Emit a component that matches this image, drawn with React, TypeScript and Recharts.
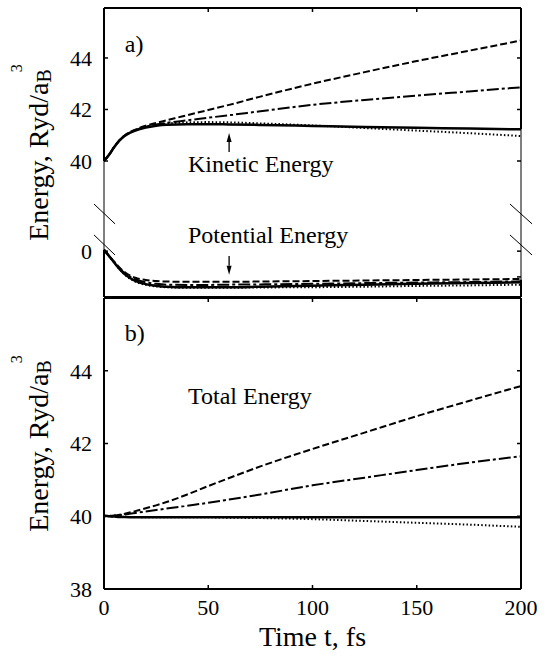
import React from 'react';
import { LineChart, Line, XAxis, YAxis, ReferenceLine, ReferenceDot } from 'recharts';

const SERIF = 'Liberation Serif';

// time grid, fs
const TIME = [0, 2.5, 5, 7.5, 10, 15, 20, 25, 30, 40, 50, 60, 75, 100, 125, 150, 175, 200];

// a) kinetic energy
const K_SOLID = [40, 40.25, 40.55, 40.8, 40.98, 41.18, 41.3, 41.37, 41.41, 41.43, 41.43, 41.42, 41.4, 41.36, 41.32, 41.29, 41.26, 41.23];
const K_DASH = [40, 40.25, 40.56, 40.82, 41.0, 41.22, 41.37, 41.48, 41.58, 41.78, 41.98, 42.18, 42.5, 43.0, 43.45, 43.88, 44.28, 44.68];
const K_DASHDOT = [40, 40.25, 40.55, 40.81, 40.99, 41.2, 41.33, 41.42, 41.48, 41.58, 41.68, 41.78, 41.93, 42.18, 42.37, 42.54, 42.7, 42.86];
const K_DOT = [40, 40.25, 40.55, 40.8, 40.98, 41.19, 41.32, 41.4, 41.45, 41.5, 41.51, 41.5, 41.46, 41.38, 41.28, 41.18, 41.08, 40.97];

// a) potential energy
const P_SOLID = [0.05, -0.2, -0.45, -0.7, -0.9, -1.15, -1.28, -1.34, -1.38, -1.4, -1.4, -1.4, -1.38, -1.34, -1.3, -1.27, -1.24, -1.21];
const P_DASH = [0.05, -0.18, -0.42, -0.64, -0.82, -1.03, -1.12, -1.16, -1.18, -1.19, -1.19, -1.19, -1.18, -1.16, -1.14, -1.12, -1.1, -1.08];
const P_DASHDOT = [0.05, -0.19, -0.44, -0.67, -0.86, -1.09, -1.21, -1.27, -1.3, -1.31, -1.31, -1.3, -1.29, -1.27, -1.24, -1.22, -1.2, -1.17];
const P_DOT = [0.05, -0.2, -0.46, -0.71, -0.92, -1.18, -1.31, -1.37, -1.4, -1.42, -1.42, -1.42, -1.41, -1.4, -1.38, -1.35, -1.33, -1.3];

// b) total energy
const T_SOLID = [40.02, 40.0, 39.99, 39.98, 39.98, 39.97, 39.97, 39.97, 39.97, 39.97, 39.97, 39.97, 39.97, 39.97, 39.97, 39.97, 39.97, 39.97];
const T_DASH = [40.0, 40.01, 40.02, 40.04, 40.07, 40.14, 40.22, 40.3, 40.39, 40.6, 40.83, 41.05, 41.37, 41.85, 42.3, 42.75, 43.17, 43.58];
const T_DASHDOT = [40.0, 40.01, 40.02, 40.03, 40.05, 40.09, 40.13, 40.17, 40.21, 40.29, 40.37, 40.46, 40.6, 40.85, 41.06, 41.27, 41.47, 41.65];
const T_DOT = [40.0, 40.0, 39.99, 39.99, 39.98, 39.98, 39.97, 39.97, 39.97, 39.97, 39.97, 39.96, 39.95, 39.92, 39.87, 39.82, 39.77, 39.71];

const TIME_TICKS = [0, 50, 100, 150, 200];
const KINETIC_TICKS = [40, 42, 44];
const POTENTIAL_TICKS = [-1, 0];
const TOTAL_TICKS = [38, 40, 42, 44];

// broken axis in panel a): kinetic values are shifted down so 40 sits 3.5 units above 0
const K_OFFSET = 36.5;
const TOP_DOMAIN: [number, number] = [-1.78, 9.44];
const BOTTOM_DOMAIN: [number, number] = [38, 46];

const topData = TIME.map((t, i) => ({
  t,
  kS: K_SOLID[i] - K_OFFSET,
  kD: K_DASH[i] - K_OFFSET,
  kDD: K_DASHDOT[i] - K_OFFSET,
  kDot: K_DOT[i] - K_OFFSET,
  pS: P_SOLID[i],
  pD: P_DASH[i],
  pDD: P_DASHDOT[i],
  pDot: P_DOT[i],
}));

const bottomData = TIME.map((t, i) => ({
  t,
  s: T_SOLID[i],
  d: T_DASH[i],
  dd: T_DASHDOT[i],
  dot: T_DOT[i],
}));

const STYLE = {
  solid: { strokeWidth: 2.5, strokeDasharray: undefined },
  dash: { strokeWidth: 2, strokeDasharray: '7 3' },
  dashdot: { strokeWidth: 2, strokeDasharray: '12 3 3 3' },
  dot: { strokeWidth: 2, strokeDasharray: '1.5 2.2' },
};

const TICK = { fill: '#000', fontSize: 22, style: { fontFamily: SERIF } };
const TICK_LINE = { stroke: '#000', strokeWidth: 1.5 };
const FRAME = { stroke: '#000', strokeWidth: 2, ifOverflow: 'visible' as const };
const THIN = { stroke: '#000', strokeWidth: 1, ifOverflow: 'visible' as const };

const topTickLabel = (v: number) =>
  v > 2 ? String(Math.round(v + K_OFFSET)) : String(Math.round(v));

const EnergyTitle = (props: any) => {
  const vb = props.viewBox;
  const cx = 48;
  const cy = vb.y + vb.height / 2;
  return (
    <text
      x={cx}
      y={cy}
      transform={`rotate(-90, ${cx}, ${cy})`}
      textAnchor="middle"
      style={{ fontFamily: SERIF }}
      fontSize={28}
      fill="#000"
    >
      Energy, Ryd/a
      <tspan fontSize={20} dy={3}>B</tspan>
      <tspan fontSize={16} dy={-29} dx={-3}>3</tspan>
    </text>
  );
};

const TimeTitle = (props: any) => {
  const vb = props.viewBox;
  return (
    <text
      x={vb.x + vb.width / 2}
      y={vb.y + 57}
      textAnchor="middle"
      style={{ fontFamily: SERIF }}
      fontSize={28}
      fill="#000"
    >
      Time t, fs
    </text>
  );
};

const note = (text: string) => (props: any) => {
  const vb = props.viewBox;
  return (
    <text
      x={vb.x + vb.width / 2}
      y={vb.y + vb.height / 2}
      style={{ fontFamily: SERIF }}
      fontSize={24}
      fill="#000"
    >
      {text}
    </text>
  );
};

const Arrow = (props: any) => {
  const { x1, y1, x2, y2 } = props;
  const dir = y2 > y1 ? 1 : -1;
  const head = 9;
  return (
    <g>
      <line x1={x1} y1={y1} x2={x2} y2={y2 - dir * head} stroke="#000" strokeWidth={1.3} />
      <polygon
        points={`${x2},${y2} ${x2 - 2.5},${y2 - dir * head} ${x2 + 2.5},${y2 - dir * head}`}
        fill="#000"
      />
    </g>
  );
};

const seg = (x1: number, y1: number, x2: number, y2: number) => [
  { x: x1, y: y1 },
  { x: x2, y: y2 },
];

function TopPanel() {
  const ticks = [...POTENTIAL_TICKS, ...KINETIC_TICKS.map((k) => k - K_OFFSET)];
  const lines: [string, keyof typeof STYLE][] = [
    ['kDot', 'dot'], ['kDD', 'dashdot'], ['kD', 'dash'], ['kS', 'solid'],
    ['pDot', 'dot'], ['pDD', 'dashdot'], ['pD', 'dash'], ['pS', 'solid'],
  ];
  const [lo, hi] = TOP_DOMAIN;
  return (
    <LineChart width={548} height={300} data={topData} margin={{ top: 7, right: 26, bottom: 2, left: 0 }}>
      <XAxis dataKey="t" type="number" domain={[0, 200]} ticks={TIME_TICKS} height={1}
        tick={false} tickLine={false} axisLine={false} />
      <XAxis xAxisId="top" dataKey="t" orientation="top" type="number" domain={[0, 200]} ticks={TIME_TICKS}
        height={1} tickSize={-4} tickFormatter={() => ''} tickLine={TICK_LINE} axisLine={false} />
      <YAxis type="number" domain={TOP_DOMAIN} ticks={ticks} width={104} tickSize={-4} tickMargin={16}
        tickFormatter={topTickLabel} tick={TICK} tickLine={TICK_LINE} axisLine={false}
        label={EnergyTitle} />
      <YAxis yAxisId="right" orientation="right" type="number" domain={TOP_DOMAIN} ticks={ticks}
        width={1} tickSize={-4} tickFormatter={() => ''} tickLine={TICK_LINE} axisLine={false} />

      {/* frame: top and bottom edges, sides thick outside the broken gap and thin across it */}
      <ReferenceLine segment={seg(0, hi, 200, hi)} {...FRAME} />
      <ReferenceLine segment={seg(0, lo, 200, lo)} {...FRAME} />
      <ReferenceLine segment={seg(0, hi, 0, 40 - K_OFFSET)} {...FRAME} />
      <ReferenceLine segment={seg(0, 40 - K_OFFSET, 0, 0.05)} {...THIN} />
      <ReferenceLine segment={seg(0, 0.05, 0, lo)} {...FRAME} />
      <ReferenceLine segment={seg(200, hi, 200, 41.23 - K_OFFSET)} {...FRAME} />
      <ReferenceLine segment={seg(200, 41.23 - K_OFFSET, 200, -1.1)} {...THIN} />
      <ReferenceLine segment={seg(200, -1.1, 200, lo)} {...FRAME} />

      {/* axis break marks */}
      <ReferenceLine segment={seg(-4.8, 1.83, 5.3, 1.06)} {...THIN} />
      <ReferenceLine segment={seg(-4.8, 0.63, 5.3, -0.15)} {...THIN} />
      <ReferenceLine segment={seg(194.7, 1.83, 205.3, 1.06)} {...THIN} />
      <ReferenceLine segment={seg(194.7, 0.63, 205.3, -0.15)} {...THIN} />

      {lines.map(([key, st]) => (
        <Line key={key} dataKey={key} type="monotone" stroke="#000" dot={false}
          strokeWidth={STYLE[st].strokeWidth} strokeDasharray={STYLE[st].strokeDasharray}
          isAnimationActive={false} />
      ))}
      {/* invisible copy so the top / right tick axes get a series */}
      <Line xAxisId="top" yAxisId="right" dataKey="kS" stroke="none" dot={false}
        activeDot={false} isAnimationActive={false} />

      <ReferenceLine segment={seg(60, 3.85, 60, 4.59)} shape={Arrow} />
      <ReferenceLine segment={seg(60, -0.19, 60, -0.92)} shape={Arrow} />

      <ReferenceDot x={10} y={7.74} r={0} fill="none" stroke="none" label={note('a)')} />
      <ReferenceDot x={40.3} y={3.08} r={0} fill="none" stroke="none" label={note('Kinetic Energy')} />
      <ReferenceDot x={40.3} y={0.32} r={0} fill="none" stroke="none" label={note('Potential Energy')} />
    </LineChart>
  );
}

function BottomPanel() {
  const lines: [string, keyof typeof STYLE][] = [
    ['dot', 'dot'], ['dd', 'dashdot'], ['d', 'dash'], ['s', 'solid'],
  ];
  const [lo, hi] = BOTTOM_DOMAIN;
  return (
    <LineChart width={548} height={370} data={bottomData} margin={{ top: 6, right: 26, bottom: 0, left: 0 }}>
      <XAxis dataKey="t" type="number" domain={[0, 200]} ticks={TIME_TICKS} height={72}
        tickSize={-4} tickMargin={14} tick={TICK} tickLine={TICK_LINE}
        axisLine={false} label={TimeTitle} />
      <XAxis xAxisId="top" dataKey="t" orientation="top" type="number" domain={[0, 200]} ticks={TIME_TICKS}
        height={1} tickSize={-4} tickFormatter={() => ''} tickLine={TICK_LINE} axisLine={false} />
      <YAxis type="number" domain={BOTTOM_DOMAIN} ticks={TOTAL_TICKS} width={104} tickSize={-4}
        tickMargin={16} tick={TICK} tickLine={TICK_LINE} axisLine={false} label={EnergyTitle} />
      <YAxis yAxisId="right" orientation="right" type="number" domain={BOTTOM_DOMAIN} ticks={TOTAL_TICKS}
        width={1} tickSize={-4} tickFormatter={() => ''} tickLine={TICK_LINE} axisLine={false} />

      <ReferenceLine segment={seg(0, hi, 200, hi)} {...FRAME} />
      <ReferenceLine segment={seg(0, lo, 200, lo)} {...FRAME} />
      <ReferenceLine segment={seg(0, hi, 0, lo)} {...FRAME} />
      <ReferenceLine segment={seg(200, hi, 200, lo)} {...FRAME} />

      {lines.map(([key, st]) => (
        <Line key={key} dataKey={key} type="monotone" stroke="#000" dot={false}
          strokeWidth={STYLE[st].strokeWidth} strokeDasharray={STYLE[st].strokeDasharray}
          isAnimationActive={false} />
      ))}
      <Line xAxisId="top" yAxisId="right" dataKey="s" stroke="none" dot={false}
        activeDot={false} isAnimationActive={false} />

      <ReferenceDot x={10} y={44.82} r={0} fill="none" stroke="none" label={note('b)')} />
      <ReferenceDot x={40.3} y={43.08} r={0} fill="none" stroke="none" label={note('Total Energy')} />
    </LineChart>
  );
}

export default function App() {
  return (
    <div style={{ position: 'absolute', left: 0, top: 0, width: 548, height: 660, background: '#fff', fontFamily: SERIF }}>
      <div style={{ position: 'absolute', left: 0, top: 0 }}>
        <TopPanel />
      </div>
      <div style={{ position: 'absolute', left: 0, top: 291 }}>
        <BottomPanel />
      </div>
    </div>
  );
}
